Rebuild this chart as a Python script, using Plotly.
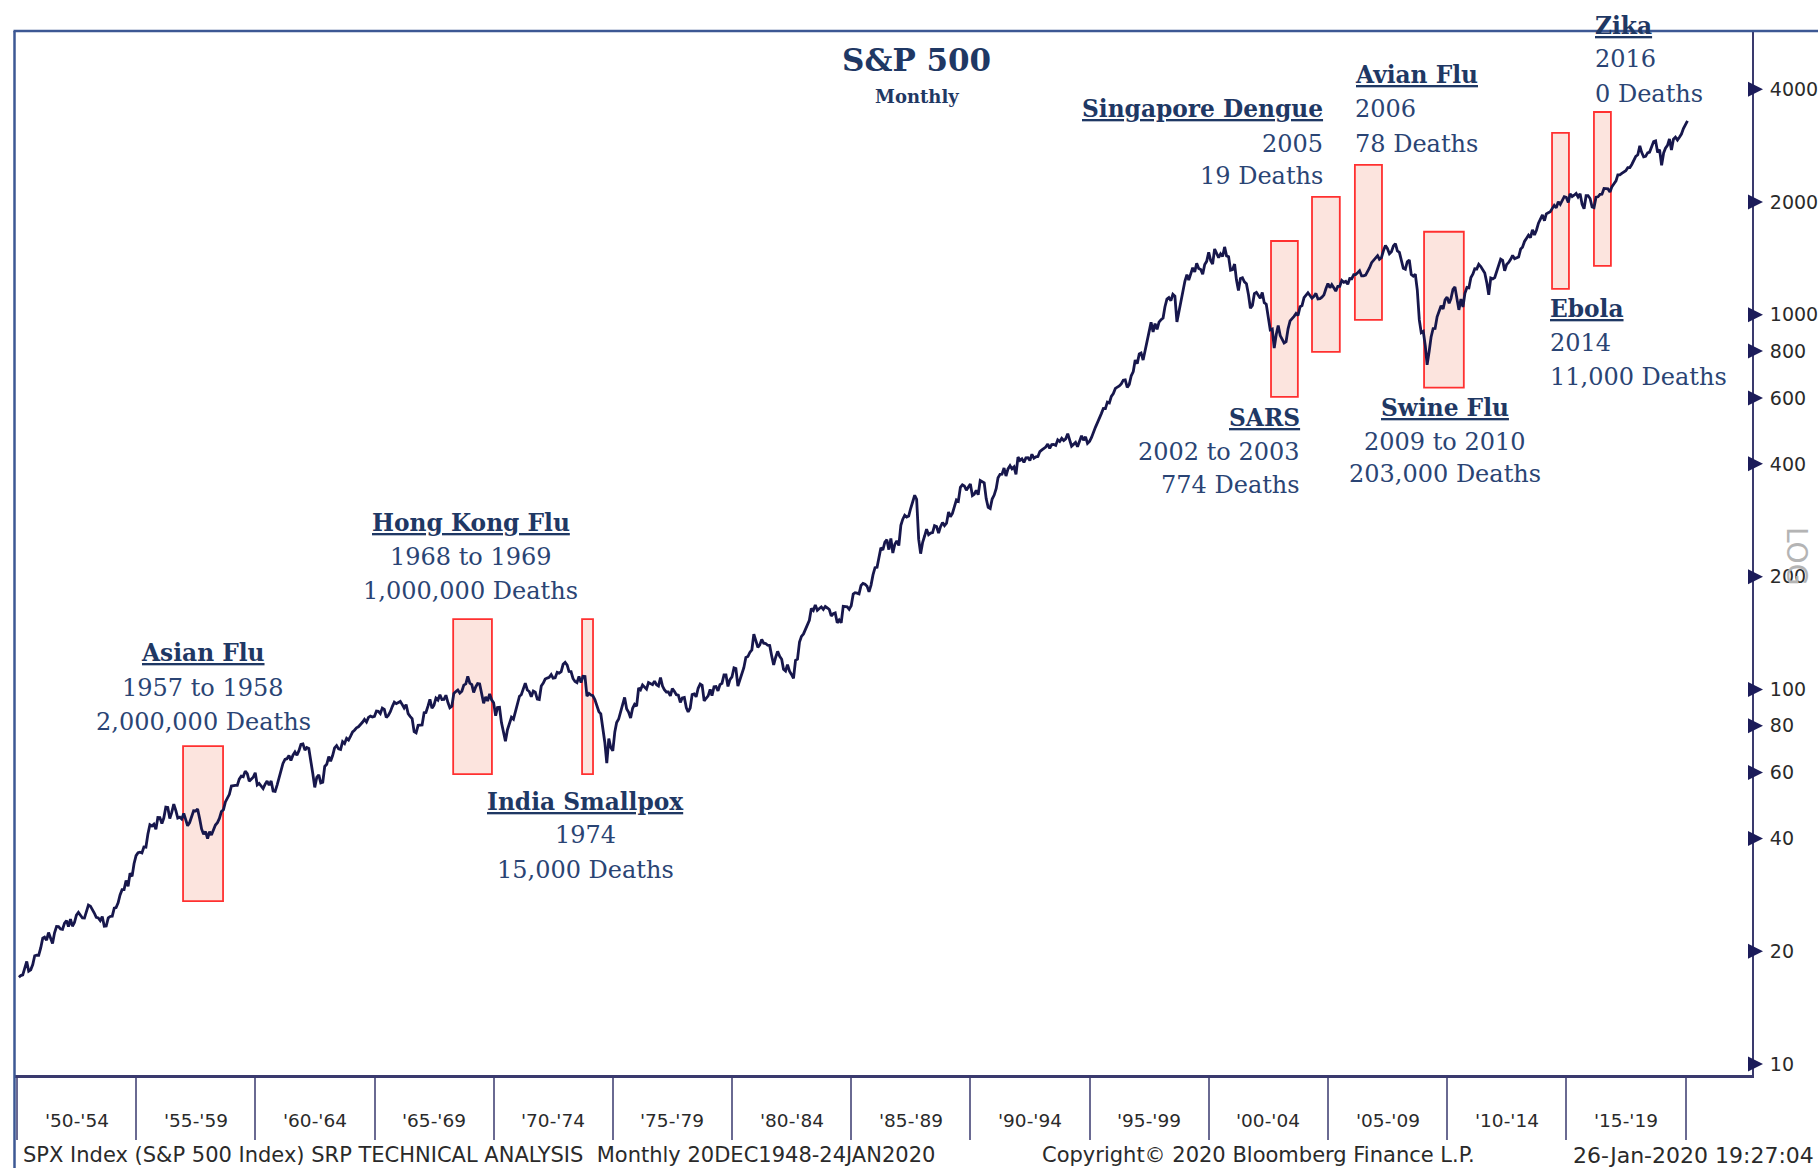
import plotly.graph_objects as go
import pandas as pd
import numpy as np

# ---------------- data: S&P 500 monthly closes ----------------
spx_1950s = [
    17.05, 17.22, 17.29, 17.96, 18.78, 17.69, 17.84, 18.42, 19.45, 19.53, 19.51, 20.41,
    21.66, 21.80, 21.40, 22.43, 21.52, 20.96, 22.40, 23.28, 23.26, 22.94, 22.88, 23.77,
    24.14, 23.26, 24.37, 23.32, 23.86, 24.96, 25.40, 25.03, 24.54, 24.52, 25.66, 26.57,
    26.38, 25.90, 25.29, 24.62, 24.54, 24.14, 24.75, 23.32, 23.35, 24.54, 24.76, 24.81,
    26.08, 26.15, 26.94, 28.26, 29.19, 29.21, 30.88, 29.83, 32.31, 31.68, 34.24, 35.98,
    36.63, 36.76, 36.58, 37.96, 37.91, 41.03, 43.52, 43.18, 43.67, 42.34, 45.51, 45.48,
    43.82, 45.34, 48.48, 48.38, 45.20, 46.97, 49.39, 47.51, 45.35, 45.58, 45.08, 46.67,
    44.72, 43.26, 44.11, 45.74, 47.43, 47.37, 47.91, 45.22, 42.42, 41.06, 41.72, 39.99,
    41.70, 40.84, 42.10, 43.44, 44.09, 45.24, 47.19, 47.75, 50.06, 51.33, 52.48, 55.21,
    55.42, 55.41, 55.44, 57.59, 58.68, 58.47, 60.51, 59.60, 56.88, 57.52, 58.28, 59.89,
]
spx_1960s = [
    55.61, 56.12, 55.34, 54.37, 55.83, 56.92, 55.51, 56.96, 53.52, 53.39, 55.54, 58.11,
    61.78, 63.44, 65.06, 65.31, 66.56, 64.64, 66.76, 68.07, 66.73, 68.62, 71.32, 71.55,
    68.84, 69.96, 69.55, 65.24, 59.63, 54.75, 58.23, 59.12, 56.27, 56.52, 62.26, 63.10,
    66.20, 64.29, 66.57, 69.80, 70.80, 69.37, 69.13, 72.50, 71.70, 74.01, 73.23, 75.02,
    77.04, 77.80, 78.98, 79.46, 80.37, 81.69, 83.18, 81.83, 84.18, 84.86, 84.42, 84.75,
    87.56, 87.43, 86.16, 89.11, 88.42, 84.12, 85.25, 87.17, 89.96, 92.42, 91.61, 92.43,
    92.88, 91.22, 89.23, 91.06, 86.13, 84.74, 83.60, 77.10, 76.56, 80.20, 80.45, 80.33,
    86.61, 86.78, 90.20, 94.01, 89.08, 90.64, 94.75, 93.64, 96.71, 93.90, 94.00, 96.47,
    92.24, 89.36, 90.20, 97.59, 98.68, 99.58, 97.74, 98.86, 102.67, 103.41, 108.37, 103.86,
    103.01, 98.13, 101.51, 103.69, 103.46, 97.71, 91.83, 95.51, 93.12, 97.24, 93.81, 92.06,
]
spx_1970s = [
    85.02, 89.50, 89.63, 81.52, 76.55, 72.72, 78.05, 81.52, 84.21, 83.25, 87.20, 92.15,
    95.88, 96.75, 100.31, 103.95, 99.63, 98.70, 95.58, 99.03, 98.34, 94.23, 93.99, 102.09,
    103.94, 106.57, 107.20, 107.67, 109.53, 107.14, 107.39, 111.09, 110.55, 111.58, 116.67, 118.05,
    116.03, 111.68, 111.52, 106.97, 104.95, 104.26, 108.22, 104.25, 108.43, 108.29, 95.96, 97.55,
    96.57, 96.22, 93.98, 90.31, 87.28, 86.00, 79.31, 72.15, 63.54, 73.90, 69.97, 68.56,
    76.98, 81.59, 83.36, 87.30, 91.15, 95.19, 88.75, 86.88, 83.87, 89.04, 91.24, 90.19,
    100.86, 99.71, 102.77, 101.64, 100.18, 104.28, 103.44, 102.91, 105.24, 102.90, 102.10, 107.46,
    102.03, 99.82, 98.42, 98.44, 96.12, 100.48, 98.85, 96.77, 96.53, 92.34, 94.83, 95.10,
    89.25, 87.04, 89.21, 96.83, 97.24, 95.53, 100.68, 103.29, 102.54, 93.15, 94.70, 96.11,
    99.93, 96.28, 101.59, 101.76, 99.08, 102.91, 103.81, 109.32, 109.32, 101.82, 106.16, 107.94,
]
spx_1980s = [
    114.16, 113.66, 102.09, 106.29, 111.24, 114.24, 121.67, 122.38, 125.46, 127.47, 140.52, 135.76,
    129.55, 131.27, 136.00, 132.81, 132.59, 131.21, 130.92, 122.79, 116.18, 121.89, 126.35, 122.55,
    120.40, 113.11, 111.96, 116.44, 111.88, 109.61, 107.09, 119.51, 120.42, 133.71, 138.54, 140.64,
    145.30, 148.06, 152.96, 164.42, 162.39, 168.11, 162.56, 164.40, 166.07, 163.55, 166.40, 164.93,
    163.41, 157.06, 159.18, 160.05, 150.55, 153.18, 150.66, 166.68, 166.10, 166.09, 163.58, 167.24,
    179.63, 181.18, 180.66, 179.83, 189.55, 191.85, 190.92, 188.63, 182.08, 189.82, 202.17, 211.28,
    211.78, 226.92, 238.90, 235.52, 247.35, 250.84, 236.12, 252.93, 231.32, 243.98, 249.22, 242.17,
    274.08, 284.20, 291.70, 288.36, 290.10, 304.00, 318.66, 329.80, 321.83, 251.79, 230.30, 247.08,
    257.07, 267.82, 258.89, 261.33, 262.16, 273.50, 272.02, 261.52, 271.91, 278.97, 273.70, 277.72,
    297.47, 288.86, 294.87, 309.64, 320.52, 317.98, 346.08, 351.45, 349.15, 340.36, 345.99, 353.40,
]
spx_1990s = [
    329.08, 331.89, 339.94, 330.80, 361.23, 358.02, 356.15, 322.56, 306.05, 304.00, 322.22, 330.22,
    343.93, 367.07, 375.22, 375.35, 389.83, 371.16, 387.81, 395.43, 387.86, 392.45, 375.22, 417.09,
    408.79, 412.70, 403.69, 414.95, 415.35, 408.14, 424.21, 414.03, 417.80, 418.68, 431.35, 435.71,
    438.78, 443.38, 451.67, 440.19, 450.19, 450.53, 448.13, 463.56, 458.93, 467.83, 461.79, 466.45,
    481.61, 467.14, 445.77, 450.91, 456.50, 444.27, 458.26, 475.49, 462.69, 472.35, 453.69, 459.27,
    470.42, 487.39, 500.71, 514.71, 533.40, 544.75, 562.06, 561.88, 584.41, 581.50, 605.37, 615.93,
    636.02, 640.43, 645.50, 654.17, 669.12, 670.63, 639.95, 651.99, 687.33, 705.27, 757.02, 740.74,
    786.16, 790.82, 757.12, 801.34, 848.28, 885.14, 954.31, 899.47, 947.28, 914.62, 955.40, 970.43,
    980.28, 1049.34, 1101.75, 1111.75, 1090.82, 1133.84, 1120.67, 957.28, 1017.01, 1098.67, 1163.63, 1229.23,
    1279.64, 1238.33, 1286.37, 1335.18, 1301.84, 1372.71, 1328.72, 1320.41, 1282.71, 1362.93, 1388.91, 1469.25,
]
spx_2000s = [
    1394.46, 1366.42, 1498.58, 1452.43, 1420.60, 1454.60, 1430.83, 1517.68, 1436.51, 1429.40, 1314.95, 1320.28,
    1366.01, 1239.94, 1160.33, 1249.46, 1255.82, 1224.42, 1211.23, 1133.58, 1040.94, 1059.78, 1139.45, 1148.08,
    1130.20, 1106.73, 1147.39, 1076.92, 1067.14, 989.82, 911.62, 916.07, 815.28, 885.76, 936.31, 879.82,
    855.70, 841.15, 848.18, 916.92, 963.59, 974.50, 990.31, 1008.01, 995.97, 1050.71, 1058.20, 1111.92,
    1131.13, 1144.94, 1126.21, 1107.30, 1120.68, 1140.84, 1101.72, 1104.24, 1114.58, 1130.20, 1173.82, 1211.92,
    1181.27, 1203.60, 1180.59, 1156.85, 1191.50, 1191.33, 1234.18, 1220.33, 1228.81, 1207.01, 1249.48, 1248.29,
    1280.08, 1280.66, 1294.87, 1310.61, 1270.09, 1270.20, 1276.66, 1303.82, 1335.85, 1377.94, 1400.63, 1418.30,
    1438.24, 1406.82, 1420.86, 1482.37, 1530.62, 1503.35, 1455.27, 1473.99, 1526.75, 1549.38, 1481.14, 1468.36,
    1378.55, 1330.63, 1322.70, 1385.59, 1400.38, 1280.00, 1267.38, 1282.83, 1166.36, 968.75, 896.24, 903.25,
    825.88, 735.09, 797.87, 872.81, 919.14, 919.32, 987.48, 1020.62, 1057.08, 1036.19, 1095.63, 1115.10,
]
spx_2010s = [
    1073.87, 1104.49, 1169.43, 1186.69, 1089.41, 1030.71, 1101.60, 1049.33, 1141.20, 1183.26, 1180.55, 1257.64,
    1286.12, 1327.22, 1325.83, 1363.61, 1345.20, 1320.64, 1292.28, 1218.89, 1131.42, 1253.30, 1246.96, 1257.60,
    1312.41, 1365.68, 1408.47, 1397.91, 1310.33, 1362.16, 1379.32, 1406.58, 1440.67, 1412.16, 1416.18, 1426.19,
    1498.11, 1514.68, 1569.19, 1597.57, 1630.74, 1606.28, 1685.73, 1632.97, 1681.55, 1756.54, 1805.81, 1848.36,
    1782.59, 1859.45, 1872.34, 1883.95, 1923.57, 1960.23, 1930.67, 2003.37, 1972.29, 2018.05, 2067.56, 2058.90,
    1994.99, 2104.50, 2067.89, 2085.51, 2107.39, 2063.11, 2103.84, 1972.18, 1920.03, 2079.36, 2080.41, 2043.94,
    1940.24, 1932.23, 2059.74, 2065.30, 2096.95, 2098.86, 2173.60, 2170.95, 2168.27, 2126.15, 2198.81, 2238.83,
    2278.87, 2363.64, 2362.72, 2384.20, 2411.80, 2423.41, 2470.30, 2471.65, 2519.36, 2575.26, 2647.58, 2673.61,
    2823.81, 2713.83, 2640.87, 2648.05, 2705.27, 2718.37, 2816.29, 2901.52, 2913.98, 2711.74, 2760.17, 2506.85,
    2704.10, 2784.49, 2834.40, 2945.83, 2752.06, 2941.76, 2980.38, 2926.46, 2976.74, 3037.56, 3140.98, 3230.78,
]
spx_2020 = [3295.47]

# x-axis period labels
period_labels = ["'50-'54", "'55-'59", "'60-'64", "'65-'69", "'70-'74", "'75-'79", "'80-'84",
                 "'85-'89", "'90-'94", "'95-'99", "'00-'04", "'05-'09", "'10-'14", "'15-'19"]
period_starts = list(range(1950, 2021, 5))

# y-axis ticks
y_ticks = [10, 20, 40, 60, 80, 100, 200, 400, 600, 800, 1000, 2000, 4000]

# pandemic events (boxes)
event_titles = ["Asian Flu", "Hong Kong Flu", "India Smallpox", "SARS", "Singapore Dengue",
                "Avian Flu", "Swine Flu", "Ebola", "Zika"]
event_years = ["1957 to 1958", "1968 to 1969", "1974", "2002 to 2003", "2005",
               "2006", "2009 to 2010", "2014", "2016"]
event_deaths = ["2,000,000 Deaths", "1,000,000 Deaths", "15,000 Deaths", "774 Deaths", "19 Deaths",
                "78 Deaths", "203,000 Deaths", "11,000 Deaths", "0 Deaths"]
box_start = ["1956-12-20", "1968-04-20", "1973-09-16", "2002-08-12", "2004-05-01",
             "2006-02-17", "2009-01-12", "2014-05-27", "2016-02-28"]
box_end = ["1958-08-25", "1969-12-05", "1974-03-03", "2003-09-27", "2005-07-01",
           "2007-04-08", "2010-09-13", "2015-02-10", "2016-11-14"]
box_low = [27.2, 59.4, 59.4, 604, 796, 969, 639, 1172, 1350]
box_high = [70.6, 154, 154, 1574, 2064, 2512, 1666, 3058, 3478]

# ---------------- layout geometry (pixels) ----------------
W, H = 1818, 1168
L, R, T, B = 15, 1752, 31, 1075
PW, PH = R - L, B - T


def px(x):
    return (x - L) / PW


def py(y):
    return (B - y) / PH


values = spx_1950s + spx_1960s + spx_1970s + spx_1980s + spx_1990s + spx_2000s + spx_2010s + spx_2020
dates = pd.date_range("1950-01-31", periods=len(values), freq="ME")

x_range = ["1949-12-02", "2022-10-16"]
y_range = [0.9706, 3.7576]

NAVY_TXT = "#1F3864"
LINE = "#17174c"

fig = go.Figure()

fig.add_trace(go.Scatter(x=dates, y=values, mode="lines",
                         line=dict(color=LINE, width=2.8), showlegend=False,
                         hoverinfo="x+y"))

shapes = []
for s, e, lo, hi in zip(box_start, box_end, box_low, box_high):
    shapes.append(dict(type="rect", xref="x", yref="y", x0=s, x1=e, y0=lo, y1=hi,
                       line=dict(color="#FF3030", width=1.8),
                       fillcolor="rgba(250,205,195,0.55)", layer="below"))

# outer frame lines (top and left)
shapes.append(dict(type="line", xref="paper", yref="paper", x0=px(13.5), x1=px(1818), y0=1, y1=1,
                   line=dict(color="#3d5894", width=2.5)))
shapes.append(dict(type="line", xref="paper", yref="paper", x0=px(14.5), x1=px(14.5), y0=1, y1=py(1168),
                   line=dict(color="#3d5894", width=2.5)))

annotations = []
font_title = dict(family="DejaVu Serif", size=23.3, color=NAVY_TXT)
font_body = dict(family="DejaVu Serif", size=24, color="#2a4474")

# label placement (pixel positions: anchor x, alignment, line y centres)
label_pos = [
    (203, "center", (652.7, 687.5, 722.3)),
    (470.7, "center", (522.9, 556.5, 591.3)),
    (585.5, "center", (801.1, 834.8, 869.6)),
    (1302, "right", (417.4, 452.2, 484.6)),
    (1325, "right", (109, 143.8, 176.2)),
    (1353, "left", (74.2, 109, 143.8)),
    (1444.6, "center", (407, 441.7, 474.2)),
    (1547.8, "left", (308.4, 343.2, 376.8)),
    (1593, "left", (25.5, 59.1, 93.9)),
]
for (xa, al, ys), t, yr, d in zip(label_pos, event_titles, event_years, event_deaths):
    for txt, yy, f in ((f"<b><u>{t}</u></b>", ys[0], font_title), (yr, ys[1], font_body), (d, ys[2], font_body)):
        annotations.append(dict(xref="paper", yref="paper", x=px(xa), y=py(yy), text=txt,
                                showarrow=False, xanchor=al, yanchor="middle", font=f))

# chart title
annotations.append(dict(xref="paper", yref="paper", x=px(916), y=py(60), text="<b>S&P 500</b>",
                        showarrow=False, xanchor="center", yanchor="middle",
                        font=dict(family="DejaVu Serif", size=31, color=NAVY_TXT)))
annotations.append(dict(xref="paper", yref="paper", x=px(917), y=py(97), text="<b>Monthly</b>",
                        showarrow=False, xanchor="center", yanchor="middle",
                        font=dict(family="DejaVu Serif", size=18, color=NAVY_TXT)))

# LOG label
annotations.append(dict(xref="paper", yref="paper", x=px(1797), y=py(556), text="LOG",
                        showarrow=False, textangle=90, xanchor="center", yanchor="middle",
                        font=dict(family="DejaVu Sans", size=28, color="#b4b4b4")))

# x-axis period labels, centred between separators
lab_font = dict(family="DejaVu Sans", size=18.5, color="#2a2a2a")
for y0, lab in zip(period_starts[:-1], period_labels):
    annotations.append(dict(xref="x", yref="paper", x=f"{y0 + 2}-07-02", y=py(1120), text=lab,
                            showarrow=False, xanchor="center", yanchor="middle", font=lab_font))

# right-axis triangle tick marks
for v in y_ticks:
    annotations.append(dict(xref="paper", yref="y", x=px(1763), y=float(np.log10(v)), text="",
                            showarrow=True, ax=-11, ay=0, arrowhead=2, arrowsize=1.5,
                            arrowwidth=2, arrowcolor="#1c1c5a"))

# footer
foot_font = dict(family="DejaVu Sans", size=21, color="#2a2a2a")
annotations.append(dict(xref="paper", yref="paper", x=px(21), y=py(1155),
                        text="SPX Index (S&P 500 Index) SRP TECHNICAL ANALYSIS&nbsp;&nbsp;Monthly 20DEC1948-24JAN2020",
                        showarrow=False, xanchor="left", yanchor="middle", font=foot_font))
annotations.append(dict(xref="paper", yref="paper", x=px(1040), y=py(1155),
                        text="Copyright© 2020 Bloomberg Finance L.P.",
                        showarrow=False, xanchor="left", yanchor="middle", font=foot_font))
annotations.append(dict(xref="paper", yref="paper", x=px(1816), y=py(1155),
                        text="26-Jan-2020 19:27:04",
                        showarrow=False, xanchor="right", yanchor="middle",
                        font=dict(family="DejaVu Sans", size=22, color="#2a2a2a")))

sep_ticks = [f"{y}-01-01" for y in period_starts]

fig.update_layout(
    width=W, height=H, autosize=False,
    margin=dict(l=L, r=W - R, t=T, b=H - B, pad=0, autoexpand=False),
    paper_bgcolor="white", plot_bgcolor="white",
    showlegend=False,
    shapes=shapes, annotations=annotations,
    xaxis=dict(type="date", range=x_range, showgrid=False, zeroline=False, automargin=False,
               showline=True, linecolor="#3a3a6e", linewidth=3,
               tickmode="array", tickvals=sep_ticks, showticklabels=False,
               ticks="outside", ticklen=62, tickwidth=1.5, tickcolor="#6a6a92"),
    yaxis=dict(type="log", range=y_range, side="right", showgrid=False, zeroline=False, automargin=False,
               showline=True, linecolor="#3a3a6e", linewidth=2,
               tickmode="array", tickvals=y_ticks, ticktext=[str(v) for v in y_ticks],
               ticks="outside", ticklen=12, tickcolor="rgba(0,0,0,0)",
               tickfont=dict(family="DejaVu Sans", size=19, color="#2a2a2a")),
)

fig.write_html("out.html", config={"displayModeBar": False},
               post_script="document.body.style.margin='0';document.body.style.overflow='hidden';")
